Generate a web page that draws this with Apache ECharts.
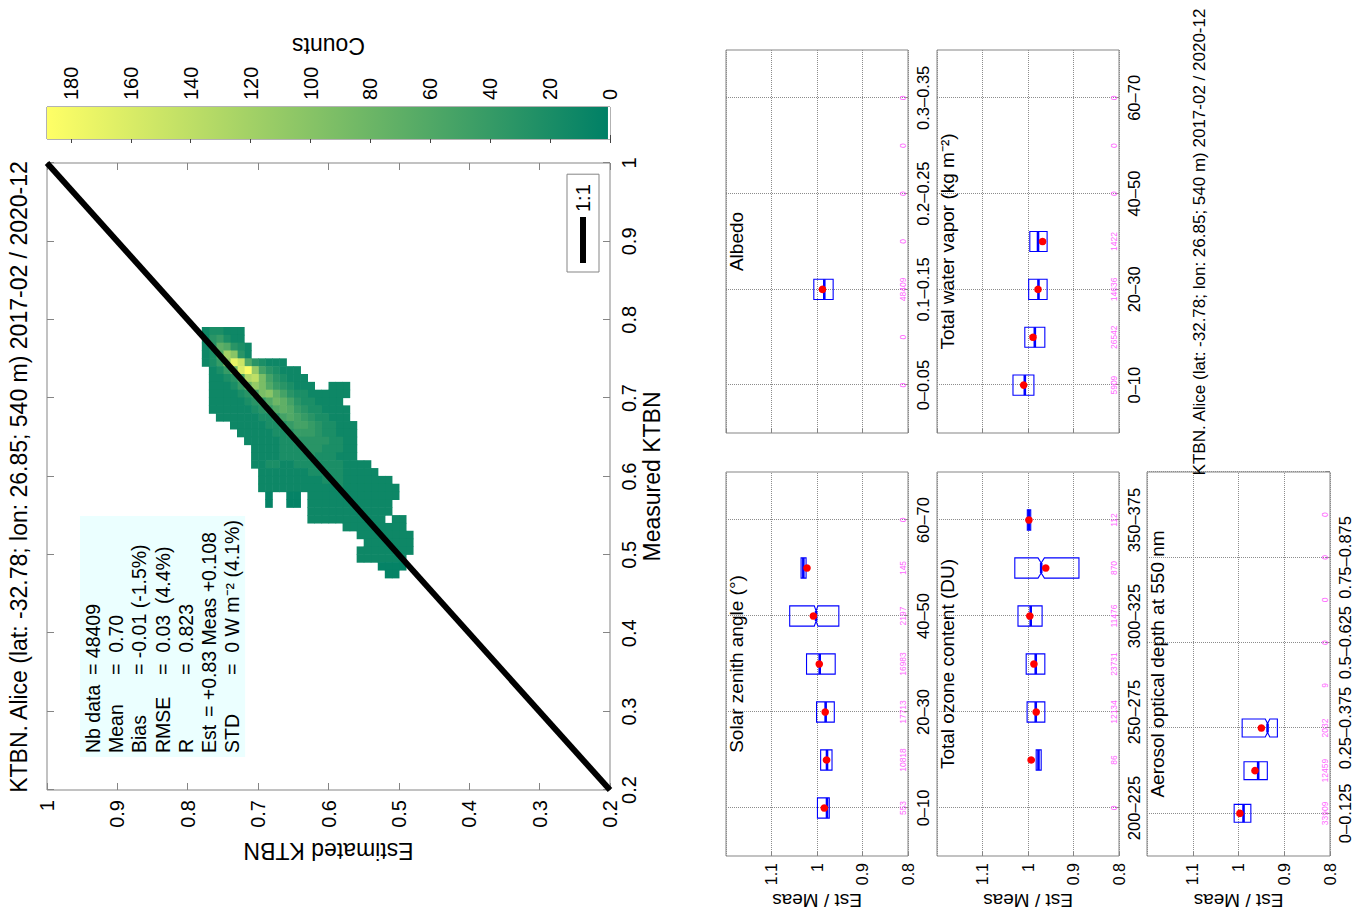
<!DOCTYPE html>
<html>
<head>
<meta charset="utf-8">
<script src="https://cdn.jsdelivr.net/npm/echarts@6.0.0/dist/echarts.min.js"></script>
<style>
html,body{margin:0;padding:0;width:1354px;height:919px;overflow:hidden;background:#fff;}
#chart{position:absolute;left:0;top:0;width:919px;height:1354px;transform-origin:0 0;transform:translate(0px,919px) rotate(-90deg);}
</style>
</head>
<body>
<div id="chart"></div>
<script>
// ---------------- data ----------------
const mainTitle = 'KTBN. Alice (lat: -32.78; lon: 26.85; 540 m) 2017-02 / 2020-12';
const measuredName = 'Measured KTBN';
const estimatedName = 'Estimated KTBN';
const ktbnMin = 0.2, ktbnMax = 1, ktbnStep = 0.1;

const statsLines = [
  '{l|Nb data}= 48409',
  '{l|Mean}=\u00a0\u00a00.70',
  '{l|Bias}= -0.01 (-1.5%)',
  '{l|RMSE}=\u00a0\u00a00.03\u00a0\u00a0(4.4%)',
  '{l|R}=\u00a0\u00a00.823',
  '{e|Est}= +0.83 Meas +0.108',
  '{l|STD}=\u00a0\u00a00 W m\u207b\u00b2 (4.1%)'
];

const diagName = '1:1';
const diagMeasured = [0.2, 1];
const diagEstimated = [0.2, 1];

// 2-D histogram: rows of measured bins; each char = count level along estimated bins
const heatBin = 0.01;
const heatEstStart = 0.48;
const heatLevelChars = '0123456789abcdefghij';
const heatLevelCounts = [4, 10, 20, 30, 40, 50, 60, 70, 80, 90, 100, 110, 120, 130, 140, 150, 160, 170, 180, 185];
const heatRows = [
  [0.78, 24, '111221'],
  [0.77, 24, '112431'],
  [0.76, 23, '1236731'],
  [0.75, 23, '13ac621'],
  [0.74, 18, '111236fhb421'],
  [0.73, 16, '111235bjg8421'],
  [0.72, 15, '1112359ed63211'],
  [0.71, 9, '111..11123469b842111'],
  [0.70, 9, '11111122357a95321111'],
  [0.69, 10, '1111223578643211111'],
  [0.68, 9, '11112234676432111111'],
  [0.67, 9, '1112234565322111111'],
  [0.66, 8, '111223455432211111'],
  [0.65, 8, '11122344432211111'],
  [0.64, 8, '1122333332211111'],
  [0.63, 8, '112223332221111'],
  [0.62, 8, '111222322221111'],
  [0.61, 6, '11112222222112211'],
  [0.60, 5, '11111222221111111'],
  [0.59, 3, '1111111222111111111'],
  [0.58, 2, '11111111211111111111'],
  [0.57, 2, '1111111111111.00..0'],
  [0.56, 3, '111111111111.00..0'],
  [0.55, 3, '111111111111'],
  [0.54, 1, '11.11111111111'],
  [0.53, 1, '111111111'],
  [0.52, 0, '11111111'],
  [0.51, 0, '1111111'],
  [0.50, 0, '11111111'],
  [0.49, 1, '1111111'],
  [0.48, 1, '0000'],
  [0.47, 2, '00']
];

const colorbarName = 'Counts';
const colorbarMax = 188;
const colorbarStep = 20;
const summerColors = ['#008066', '#ffff66'];

// box-plot panels
const ratioName = 'Est / Meas';
const ratioMin = 0.8, ratioMax = 1.2, ratioStep = 0.1;

const solarTitle = 'Solar zenith angle (\u00b0)';
const solarCats = ['0\u201310', '10\u201320', '20\u201330', '30\u201340', '40\u201350', '50\u201360', '60\u201370'];
const solarCounts = [553, 10818, 17713, 16983, 2197, 145, 0];
const solarQ1 = [0.973, 0.967, 0.962, 0.960, 0.952, 1.024];
const solarMed = [0.978, 0.978, 0.981, 0.994, 1.002, 1.030];
const solarQ3 = [0.999, 0.992, 1.001, 1.023, 1.060, 1.035];
const solarMean = [0.984, 0.979, 0.982, 0.995, 1.008, 1.022];
const solarNotch = [0, 0, 0, 0, 0.004, 0];

const albedoTitle = 'Albedo';
const albedoCats = ['0\u20130.05', '0.05\u20130.1', '0.1\u20130.15', '0.15\u20130.2', '0.2\u20130.25', '0.25\u20130.3', '0.3\u20130.35'];
const albedoCounts = [0, 0, 48409, 0, 0, 0, 0];
const albedoQ1 = [null, null, 0.9645];
const albedoMed = [null, null, 0.984];
const albedoQ3 = [null, null, 1.007];
const albedoMean = [null, null, 0.988];
const albedoNotch = [0, 0, 0];

const ozoneTitle = 'Total ozone content (DU)';
const ozoneCats = ['200\u2013225', '225\u2013250', '250\u2013275', '275\u2013300', '300\u2013325', '325\u2013350', '350\u2013375'];
const ozoneCounts = [0, 86, 12134, 23731, 11476, 870, 112];
const ozoneQ1 = [null, 0.971, 0.963, 0.963, 0.969, 0.888, 0.994];
const ozoneMed = [null, 0.977, 0.983, 0.983, 0.994, 0.971, 0.998];
const ozoneQ3 = [null, 0.982, 1.002, 1.004, 1.022, 1.029, 1.0015];
const ozoneMean = [null, 0.993, 0.982, 0.987, 0.996, 0.961, 0.998];
const ozoneNotch = [0, 0, 0, 0, 0, 0.007, 0];

const vaporTitle = 'Total water vapor (kg m\u207b\u00b2)';
const vaporCats = ['0\u201310', '10\u201320', '20\u201330', '30\u201340', '40\u201350', '50\u201360', '60\u201370'];
const vaporCounts = [5909, 26542, 14636, 1422, 0, 0, 0];
const vaporQ1 = [0.987, 0.963, 0.958, 0.958];
const vaporMed = [1.007, 0.985, 0.977, 0.978];
const vaporQ3 = [1.033, 1.007, 0.9985, 0.996];
const vaporMean = [1.0095, 0.989, 0.978, 0.968];
const vaporNotch = [0, 0, 0, 0];

const aerosolTitle = 'Aerosol optical depth at 550 nm';
const aerosolCats = ['0\u20130.125', '0.125\u20130.25', '0.25\u20130.375', '0.375\u20130.5', '0.5\u20130.625', '0.625\u20130.75', '0.75\u20130.875', '0.875\u20131'];
const aerosolCounts = [33909, 12459, 2032, 9, 0, 0, 0, 0];
const aerosolQ1 = [0.973, 0.937, 0.915];
const aerosolMed = [0.989, 0.957, 0.9365];
const aerosolQ3 = [1.0095, 0.988, 0.992];
const aerosolMean = [0.997, 0.964, 0.950];
const aerosolNotch = [0, 0, 0.005];

// ---------------- build ----------------
const FONT = "'Liberation Sans', Arial, Helvetica, sans-serif";
const chart = echarts.init(document.getElementById('chart'), null, {renderer: 'svg', width: 919, height: 1354});

const heatData = [];
heatRows.forEach(function (row) {
  const v = row[0], start = row[1], s = row[2];
  for (let i = 0; i < s.length; i++) {
    const ch = s.charAt(i);
    if (ch === '.') continue;
    const e = Math.round((heatEstStart + (start + i) * heatBin) * 1000) / 1000;
    heatData.push([v, e, heatLevelCounts[heatLevelChars.indexOf(ch)]]);
  }
});

function renderHeat(params, api) {
  const m = api.value(0), e = api.value(1);
  const p1 = api.coord([m, e + heatBin]);
  const p2 = api.coord([m + heatBin, e]);
  return {
    type: 'rect',
    shape: {x: p1[0], y: p1[1], width: p2[0] - p1[0] + 0.6, height: p2[1] - p1[1] + 0.6},
    style: {fill: api.visual('color')}
  };
}

function renderColorbar(params, api) {
  const p1 = api.coord([0, api.value(1)]);
  const p2 = api.coord([1, 0]);
  return {
    type: 'rect',
    shape: {x: p1[0], y: p1[1], width: p2[0] - p1[0], height: p2[1] - p1[1]},
    style: {
      fill: new echarts.graphic.LinearGradient(0, 1, 0, 0, [
        {offset: 0, color: '#ffffff'},
        {offset: 0.003, color: '#ffffff'},
        {offset: 0.0045, color: summerColors[0]},
        {offset: 1, color: summerColors[1]}
      ])
    }
  };
}

function renderBox(params, api) {
  const c = api.value(0), q1 = api.value(1), md = api.value(2), q3 = api.value(3), mn = api.value(4), nh = api.value(5);
  const pc = api.coord([c, md]);
  const band = api.coord([c + 1, md])[0] - pc[0];
  const hw = band * 0.21;
  const cx = pc[0], ym = pc[1];
  const y1 = api.coord([c, q1])[1], y3 = api.coord([c, q3])[1];
  let pts;
  if (nh > 0) {
    const yl = api.coord([c, md - nh])[1], yh = api.coord([c, md + nh])[1];
    pts = [[cx - hw, y1], [cx - hw, yl], [cx - hw * 0.5, ym], [cx - hw, yh], [cx - hw, y3],
           [cx + hw, y3], [cx + hw, yh], [cx + hw * 0.5, ym], [cx + hw, yl], [cx + hw, y1]];
  } else {
    pts = [[cx - hw, y1], [cx - hw, y3], [cx + hw, y3], [cx + hw, y1]];
  }
  const mw = nh > 0 ? hw * 0.5 : hw;
  const pm = api.coord([c, mn]);
  return {
    type: 'group',
    children: [
      {type: 'polygon', shape: {points: pts}, style: {fill: 'none', stroke: '#0000ff', lineWidth: 1.1}},
      {type: 'line', shape: {x1: cx - mw, y1: ym, x2: cx + mw, y2: ym}, style: {stroke: '#0000ff', lineWidth: 2.6}},
      {type: 'circle', shape: {cx: pm[0], cy: pm[1], r: 3.8}, style: {fill: '#ff0000'}}
    ]
  };
}

function renderCount(params, api) {
  const c = api.value(0), n = api.value(1);
  const p = api.coord([c, ratioMin]);
  return {
    type: 'text',
    x: p[0], y: p[1] - 5,
    style: {text: String(n), fill: '#ff66ff', fontSize: 8.5, fontFamily: FONT, align: 'center', verticalAlign: 'middle'}
  };
}

const panels = [
  {grid: [63, 726, 384, 182], title: solarTitle, cats: solarCats, counts: solarCounts, q1: solarQ1, med: solarMed, q3: solarQ3, mean: solarMean, notch: solarNotch, yLabels: true},
  {grid: [486, 726, 383, 182], title: albedoTitle, cats: albedoCats, counts: albedoCounts, q1: albedoQ1, med: albedoMed, q3: albedoQ3, mean: albedoMean, notch: albedoNotch, yLabels: false},
  {grid: [63, 937, 384, 182], title: ozoneTitle, cats: ozoneCats, counts: ozoneCounts, q1: ozoneQ1, med: ozoneMed, q3: ozoneQ3, mean: ozoneMean, notch: ozoneNotch, yLabels: true},
  {grid: [486, 937, 383, 182], title: vaporTitle, cats: vaporCats, counts: vaporCounts, q1: vaporQ1, med: vaporMed, q3: vaporQ3, mean: vaporMean, notch: vaporNotch, yLabels: false},
  {grid: [63, 1147, 384, 183], title: aerosolTitle, cats: aerosolCats, counts: aerosolCounts, q1: aerosolQ1, med: aerosolMed, q3: aerosolQ3, mean: aerosolMean, notch: aerosolNotch, yLabels: true}
];

const oddFn = function (idx) { return idx % 2 === 1; };
const black = '#000';
const frameGray = '#858585';

const grids = [
  {left: 129, top: 47, width: 627, height: 563, show: true, borderColor: frameGray, borderWidth: 1},
  {left: 780, top: 47, width: 32, height: 563, show: true, borderColor: '#666', borderWidth: 1}
];
const xAxes = [
  {type: 'value', gridIndex: 0, min: ktbnMin, max: ktbnMax, interval: ktbnStep, position: 'bottom',
   axisLine: {show: false}, axisTick: {inside: true, length: 7, lineStyle: {color: frameGray}},
   axisLabel: {fontSize: 20, color: black, margin: 9, fontFamily: FONT}, splitLine: {show: false},
   name: measuredName, nameLocation: 'middle', nameGap: 30, nameTextStyle: {fontSize: 23, color: black, fontFamily: FONT}},
  {type: 'value', gridIndex: 0, min: ktbnMin, max: ktbnMax, interval: ktbnStep, position: 'top',
   axisLine: {show: false}, axisTick: {inside: true, length: 7, lineStyle: {color: frameGray}},
   axisLabel: {show: false}, splitLine: {show: false}},
  {type: 'value', gridIndex: 1, min: 0, max: 1, show: false}
];
const yAxes = [
  {type: 'value', gridIndex: 0, min: ktbnMin, max: ktbnMax, interval: ktbnStep, position: 'left',
   axisLine: {show: false}, axisTick: {inside: true, length: 7, lineStyle: {color: frameGray}},
   axisLabel: {fontSize: 20, color: black, margin: 10, fontFamily: FONT}, splitLine: {show: false},
   name: estimatedName, nameLocation: 'middle', nameRotate: 90, nameGap: 49, nameTextStyle: {fontSize: 23, color: black, fontFamily: FONT}},
  {type: 'value', gridIndex: 0, min: ktbnMin, max: ktbnMax, interval: ktbnStep, position: 'right',
   axisLine: {show: false}, axisTick: {inside: true, length: 7, lineStyle: {color: frameGray}},
   axisLabel: {show: false}, splitLine: {show: false}},
  {type: 'value', gridIndex: 1, min: 0, max: colorbarMax, interval: colorbarStep, position: 'right',
   axisLine: {show: false}, axisTick: {inside: true, length: 4, lineStyle: {color: '#444'}},
   axisLabel: {fontSize: 20, color: black, margin: 7, showMaxLabel: false, fontFamily: FONT}, splitLine: {show: false},
   name: colorbarName, nameLocation: 'middle', nameRotate: 90, nameGap: 50, nameTextStyle: {fontSize: 23, color: black, fontFamily: FONT}},
  {type: 'value', gridIndex: 1, min: 0, max: colorbarMax, interval: colorbarStep, position: 'left',
   axisLine: {show: false}, axisTick: {inside: true, length: 4, lineStyle: {color: '#444'}},
   axisLabel: {show: false}, splitLine: {show: false}}
];

const series = [
  {type: 'custom', name: 'counts-map', xAxisIndex: 0, yAxisIndex: 0, renderItem: renderHeat, data: heatData, z: 2, silent: true},
  {type: 'line', name: diagName, xAxisIndex: 0, yAxisIndex: 0, color: '#000', symbol: 'none',
   lineStyle: {color: '#000', width: 6}, data: diagMeasured.map(function (m, i) { return [m, diagEstimated[i]]; }), z: 5, silent: true},
  {type: 'custom', name: 'colorbar', xAxisIndex: 2, yAxisIndex: 2, renderItem: renderColorbar, data: [[0, colorbarMax]], silent: true}
];

const titles = [
  {text: mainTitle, left: 442, top: 7, textAlign: 'center', padding: 0,
   textStyle: {fontSize: 23, fontWeight: 'normal', color: black, fontFamily: FONT}},
  {text: statsLines.join('\n'), left: 162, top: 80, padding: [1, 4, 1, 4], backgroundColor: '#ebffff',
   textStyle: {fontSize: 19.5, lineHeight: 23.3, fontWeight: 'normal', color: black, fontFamily: FONT, width: 230,
     rich: {l: {width: 78, fontSize: 19.5, lineHeight: 23.3, fontFamily: FONT, color: black},
            e: {width: 36, fontSize: 19.5, lineHeight: 23.3, fontFamily: FONT, color: black}}}},
  {text: mainTitle, left: 677, top: 1191, textAlign: 'center', padding: 0,
   textStyle: {fontSize: 17, fontWeight: 'normal', color: black, fontFamily: FONT}}
];

panels.forEach(function (p, k) {
  const gi = grids.length;
  const xi = xAxes.length;
  const yi = yAxes.length;
  grids.push({left: p.grid[0], top: p.grid[1], width: p.grid[2], height: p.grid[3], show: true, borderColor: frameGray, borderWidth: 1});
  xAxes.push({type: 'category', gridIndex: gi, data: [''].concat(p.cats, ['']), boundaryGap: false,
    axisLine: {show: false},
    axisTick: {show: true, inside: true, length: 4, interval: oddFn, lineStyle: {color: frameGray}},
    axisLabel: {interval: oddFn, fontSize: 16.5, color: black, margin: 6, fontFamily: FONT},
    splitLine: {show: true, interval: oddFn, lineStyle: {type: 'dotted', color: '#8c8c8c', width: 1}}});
  yAxes.push({type: 'value', gridIndex: gi, min: ratioMin, max: ratioMax, interval: ratioStep,
    axisLine: {show: false},
    axisTick: {show: true, inside: true, length: 4, lineStyle: {color: frameGray}},
    axisLabel: {show: p.yLabels, fontSize: 16, color: black, margin: 7, showMaxLabel: false, fontFamily: FONT},
    splitLine: {show: true, lineStyle: {type: 'dotted', color: '#8c8c8c', width: 1}},
    name: p.yLabels ? ratioName : '', nameLocation: 'middle', nameRotate: 90, nameGap: 35,
    nameTextStyle: {fontSize: 19, color: black, fontFamily: FONT}});
  const boxData = [];
  for (let i = 0; i < p.q1.length; i++) {
    if (p.q1[i] == null) continue;
    boxData.push([i + 1, p.q1[i], p.med[i], p.q3[i], p.mean[i], p.notch[i]]);
  }
  series.push({type: 'custom', name: 'box' + k, xAxisIndex: xi, yAxisIndex: yi, renderItem: renderBox, data: boxData, z: 4, silent: true});
  series.push({type: 'custom', name: 'n' + k, xAxisIndex: xi, yAxisIndex: yi, renderItem: renderCount,
    data: p.counts.map(function (n, i) { return [i + 1, n]; }), z: 3, silent: true});
  titles.push({text: p.title, left: p.grid[0] + p.grid[2] / 2, top: p.grid[1] + 1, textAlign: 'center', padding: 0,
    textStyle: {fontSize: 19, fontWeight: 'normal', color: black, fontFamily: FONT}});
});

const option = {
  animation: false,
  backgroundColor: '#fff',
  textStyle: {fontFamily: FONT},
  title: titles,
  legend: {data: [diagName], left: 647, top: 567, orient: 'horizontal', icon: 'rect', itemWidth: 46, itemHeight: 6,
    itemGap: 5, textStyle: {fontSize: 20, color: black, fontFamily: FONT}, borderColor: frameGray, borderWidth: 1,
    backgroundColor: '#fff', padding: [6, 10, 6, 9], selectedMode: false},
  visualMap: {show: false, type: 'continuous', seriesIndex: 0, dimension: 2, min: 0, max: colorbarMax,
    inRange: {color: summerColors}},
  grid: grids,
  xAxis: xAxes,
  yAxis: yAxes,
  series: series
};
chart.setOption(option);
</script>
</body>
</html>
